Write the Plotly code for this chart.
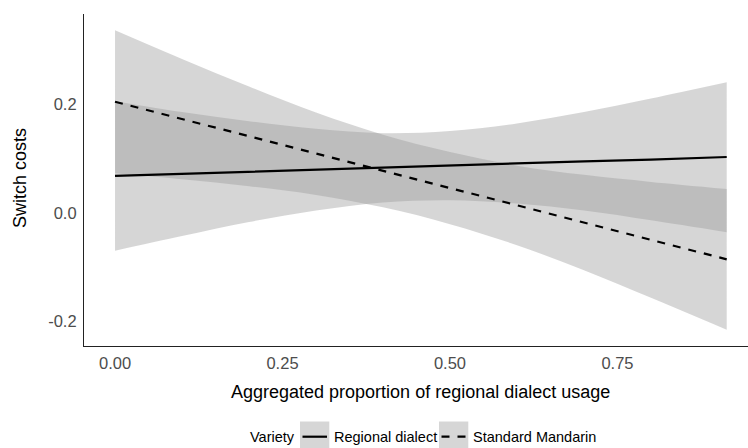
import plotly.graph_objects as go

# ---- data ----
x_grid = [0.0, 0.1, 0.2, 0.3, 0.4, 0.5, 0.6, 0.7, 0.8, 0.913]

# Regional dialect: fitted line and confidence band
regional_fit = [0.068, 0.072, 0.076, 0.079, 0.083, 0.087, 0.091, 0.095, 0.098, 0.103]
regional_lo = [-0.070, -0.043, -0.017, 0.004, 0.019, 0.023, 0.017, 0.004, -0.014, -0.036]
regional_hi = [0.206, 0.186, 0.169, 0.155, 0.147, 0.151, 0.165, 0.186, 0.211, 0.241]

# Standard Mandarin: fitted line and confidence band
mandarin_fit = [0.205, 0.173, 0.141, 0.109, 0.077, 0.046, 0.014, -0.018, -0.050, -0.086]
mandarin_lo = [0.073, 0.062, 0.049, 0.033, 0.010, -0.021, -0.060, -0.106, -0.157, -0.216]
mandarin_hi = [0.337, 0.284, 0.233, 0.185, 0.144, 0.112, 0.087, 0.070, 0.057, 0.044]

x_ticks = [0.0, 0.25, 0.5, 0.75]
x_tick_labels = ["0.00", "0.25", "0.50", "0.75"]
y_ticks = [-0.2, 0.0, 0.2]
y_tick_labels = ["-0.2", "0.0", "0.2"]

series_names = ["Regional dialect", "Standard Mandarin"]
legend_title = "Variety"
x_title = "Aggregated proportion of regional dialect usage"
y_title = "Switch costs"

# ---- figure ----
W, H = 748, 448
L, T, B, R = 84, 14, 102, 0
PW, PH = W - L - R, H - T - B
FONT = "Liberation Sans, Arial, Helvetica, sans-serif"
BAND = "rgba(153,153,153,0.4)"


def px(xp):
    return (xp - L) / PW


def py(yp):
    return (T + PH - yp) / PH


fig = go.Figure()
for lo, hi in [(regional_lo, regional_hi), (mandarin_lo, mandarin_hi)]:
    fig.add_trace(go.Scatter(x=x_grid, y=lo, mode="lines", line=dict(width=0, shape="spline"),
                             showlegend=False, hoverinfo="skip"))
    fig.add_trace(go.Scatter(x=x_grid, y=hi, mode="lines", line=dict(width=0, shape="spline"),
                             fill="tonexty", fillcolor=BAND, showlegend=False, hoverinfo="skip"))

fig.add_trace(go.Scatter(x=x_grid, y=regional_fit, mode="lines", name=series_names[0],
                         line=dict(color="black", width=2.2), showlegend=False))
fig.add_trace(go.Scatter(x=x_grid, y=mandarin_fit, mode="lines", name=series_names[1],
                         line=dict(color="black", width=2.2, dash="8px,8px"), showlegend=False))

fig.update_layout(
    width=W, height=H,
    margin=dict(l=L, r=R, t=T, b=B, pad=0),
    paper_bgcolor="white", plot_bgcolor="white",
    font=dict(family=FONT, color="black"),
    showlegend=False,
    xaxis=dict(range=[-0.0463, 0.9448], tickvals=x_ticks, ticktext=x_tick_labels,
               showgrid=False, zeroline=False, showline=True, linecolor="#222", linewidth=1.2,
               ticks="", tickfont=dict(size=16.5, color="#4d4d4d"), ticklabelstandoff=2,
               automargin=False),
    yaxis=dict(range=[-0.246, 0.367], tickvals=y_ticks, ticktext=y_tick_labels,
               showgrid=False, zeroline=False, showline=True, linecolor="#222", linewidth=1.2,
               ticks="", tickfont=dict(size=16.5, color="#4d4d4d"), ticklabelstandoff=3,
               automargin=False),
)

annotations = [
    dict(text=y_title, x=px(20), y=py(178), textangle=-90, font=dict(size=18, color="black")),
    dict(text=x_title, x=px(420), y=py(392), font=dict(size=18, color="black")),
    dict(text=legend_title, x=px(297), y=py(437), xanchor="right", font=dict(size=14.5, color="black")),
    dict(text=series_names[0], x=px(332), y=py(437), xanchor="left", font=dict(size=14.5, color="black")),
    dict(text=series_names[1], x=px(470.5), y=py(437), xanchor="left", font=dict(size=14.5, color="black")),
]
for a in annotations:
    a.update(xref="paper", yref="paper", showarrow=False, yanchor="middle", xanchor=a.get("xanchor", "center"))
fig.update_layout(annotations=annotations)

shapes = []
for x0, x1 in [(300, 329.3), (439, 468.3)]:
    shapes.append(dict(type="rect", xref="paper", yref="paper", x0=px(x0), x1=px(x1),
                       y0=py(421.5), y1=py(452), fillcolor="#d6d6d6", line=dict(width=0), layer="below"))
shapes.append(dict(type="line", xref="paper", yref="paper", x0=px(302.5), x1=px(327), y0=py(436.7), y1=py(436.7),
                   line=dict(color="black", width=2.2)))
shapes.append(dict(type="line", xref="paper", yref="paper", x0=px(441.5), x1=px(466.5), y0=py(436.7), y1=py(436.7),
                   line=dict(color="black", width=2.2, dash="8px,8px")))
fig.update_layout(shapes=shapes)

fig.write_html("out.html", config={"displayModeBar": False},
               post_script="document.body.style.margin='0';document.body.style.overflow='hidden';")
